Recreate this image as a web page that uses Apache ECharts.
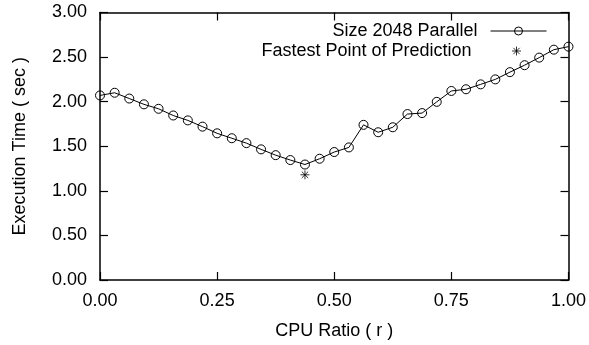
<!DOCTYPE html>
<html>
<head>
<meta charset="utf-8">
<script src="https://cdn.jsdelivr.net/npm/echarts@6/dist/echarts.min.js"></script>
<style>
  html, body { margin: 0; padding: 0; background: #fff; }
  #chart { width: 589px; height: 345px; }
</style>
</head>
<body>
<div id="chart"></div>
<script>
// CPU ratio r (fraction of work given to the CPU)
const cpuRatio = [
  0.0000, 0.0313, 0.0625, 0.0938, 0.1250, 0.1563, 0.1875, 0.2188, 0.2500,
  0.2813, 0.3125, 0.3438, 0.3750, 0.4063, 0.4375, 0.4688, 0.5000, 0.5313,
  0.5625, 0.5938, 0.6250, 0.6563, 0.6875, 0.7188, 0.7500, 0.7813, 0.8125,
  0.8438, 0.8750, 0.9063, 0.9375, 0.9688, 1.0000
];
// Measured execution time (sec), size 2048, parallel run
const execTime = [
  2.07, 2.10, 2.035, 1.97, 1.92, 1.845, 1.79, 1.72, 1.645,
  1.59, 1.535, 1.465, 1.40, 1.345, 1.295, 1.36, 1.435, 1.487,
  1.74, 1.657, 1.713, 1.861, 1.872, 1.998, 2.12, 2.139, 2.194,
  2.25, 2.331, 2.409, 2.494, 2.583, 2.617
];
// Predicted optimum
const predictedRatio = [0.4375];
const predictedTime = [1.18];

const seriesNames = ['Size 2048 Parallel', 'Fastest Point of Prediction'];
const xTicks = { min: 0, max: 1, interval: 0.25 };
const yTicks = { min: 0, max: 3, interval: 0.5 };

const FONT = 'Liberation Sans, Arial, Helvetica, sans-serif';
const asterisk = 'path://M0 5L10 5M5 0L5 10M1.5 1.5L8.5 8.5M8.5 1.5L1.5 8.5';

// Boxed frame with ticks pointing into the plot on all four sides
const frameLine = () => ({ show: true, onZero: false, lineStyle: { color: '#000', width: 1.5 } });
const innerTick = () => ({ show: true, inside: true, length: 8, lineStyle: { color: '#000', width: 1.2 } });

const chart = echarts.init(document.getElementById('chart'), null, { renderer: 'canvas' });

chart.setOption({
  animation: false,
  backgroundColor: '#fff',
  grid: { left: 100, right: 17, top: 12.5, bottom: 62.5 },
  xAxis: [
    {
      type: 'value', position: 'bottom',
      min: xTicks.min, max: xTicks.max, interval: xTicks.interval,
      name: 'CPU Ratio ( r )', nameLocation: 'middle', nameGap: 42,
      nameTextStyle: { fontFamily: FONT, fontSize: 18, color: '#000' },
      axisLine: frameLine(), axisTick: innerTick(), splitLine: { show: false },
      axisLabel: { margin: 12.5, fontFamily: FONT, fontSize: 18, color: '#000',
                   formatter: v => v.toFixed(2) }
    },
    {
      type: 'value', position: 'top',
      min: xTicks.min, max: xTicks.max, interval: xTicks.interval,
      axisLine: frameLine(), axisTick: innerTick(), splitLine: { show: false },
      axisLabel: { show: false }
    }
  ],
  yAxis: [
    {
      type: 'value', position: 'left',
      min: yTicks.min, max: yTicks.max, interval: yTicks.interval,
      name: 'Execution Time ( sec )', nameLocation: 'middle', nameGap: 71,
      nameTextStyle: { fontFamily: FONT, fontSize: 18, color: '#000' },
      axisLine: frameLine(), axisTick: innerTick(), splitLine: { show: false },
      axisLabel: { margin: 13, fontFamily: FONT, fontSize: 18, color: '#000',
                   formatter: v => v.toFixed(2) }
    },
    {
      type: 'value', position: 'right',
      min: yTicks.min, max: yTicks.max, interval: yTicks.interval,
      axisLine: frameLine(), axisTick: innerTick(), splitLine: { show: false },
      axisLabel: { show: false }
    }
  ],
  legend: [
    {
      data: [seriesNames[0]], right: 42, top: 22, align: 'right', padding: 0,
      itemWidth: 56, itemHeight: 10,
      itemStyle: { borderWidth: 1, borderColor: '#000', color: 'rgba(0,0,0,0)' },
      lineStyle: { width: 1, color: '#000' },
      textStyle: { fontFamily: FONT, fontSize: 18, color: '#000', padding: [0, 8, 0, 0] }
    },
    {
      data: [seriesNames[1]], right: 67.5, top: 42, align: 'right', padding: 0,
      itemWidth: 54, itemHeight: 9,
      itemStyle: { borderWidth: 1, borderColor: '#000', color: 'rgba(0,0,0,0)' },
      textStyle: { fontFamily: FONT, fontSize: 18, color: '#000', padding: [0, 13, 0, 0] }
    }
  ],
  series: [
    {
      name: seriesNames[0], type: 'line',
      data: cpuRatio.map((r, i) => [r, execTime[i]]),
      symbol: 'circle', symbolSize: 9,
      lineStyle: { color: '#000', width: 1 },
      itemStyle: { color: 'rgba(0,0,0,0)', borderColor: '#000', borderWidth: 1 },
      clip: false, z: 3
    },
    {
      name: seriesNames[1], type: 'scatter',
      data: predictedRatio.map((r, i) => [r, predictedTime[i]]),
      symbol: asterisk, symbolSize: 9,
      itemStyle: { color: 'rgba(0,0,0,0)', borderColor: '#000', borderWidth: 1 },
      z: 4
    }
  ]
});
</script>
</body>
</html>
